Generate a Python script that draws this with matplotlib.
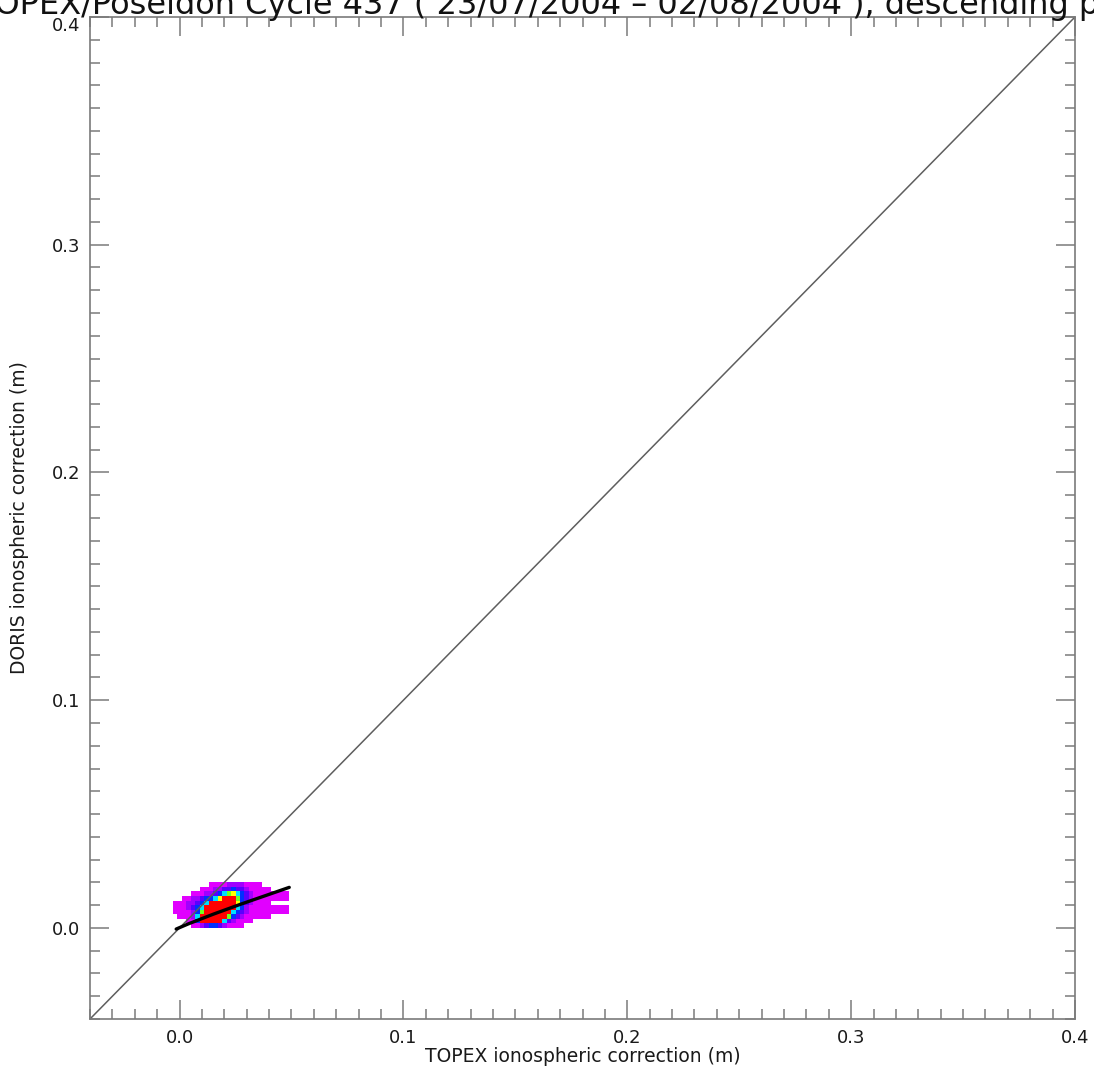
import numpy as np
import matplotlib
matplotlib.use("Agg")
import matplotlib.pyplot as plt
from matplotlib.colors import ListedColormap, BoundaryNorm
from matplotlib.ticker import MultipleLocator

# 2-D histogram of TOPEX vs DORIS ionospheric corrections (0.002 m bins)
x_edges_start = -0.003
bin_width = 0.002
y_edges_start = 0.0

# counts per bin, bottom row first (y = 0.000-0.002 upward), 27 columns from x = -0.003
counts = [
    [0,0,0,0,1,1,2,3,4,4,3,2,1,1,1,1,0,0,0,0,0,0,0,0,0,0,0],
    [0,0,0,1,1,4,9,9,9,9,9,5,3,2,1,1,1,1,0,0,0,0,0,0,0,0,0],
    [0,1,1,1,2,5,9,9,9,9,9,9,6,4,3,2,1,1,1,1,1,1,0,0,0,0,0],
    [1,1,1,1,2,4,6,9,9,9,9,9,9,5,4,3,2,1,1,1,1,1,1,1,1,1,0],
    [1,1,1,2,3,4,5,9,9,9,9,9,9,9,5,4,2,1,1,1,1,1,1,1,1,1,0],
    [1,1,1,2,2,3,4,5,9,9,9,9,9,9,7,4,3,2,1,1,1,1,0,0,0,0,0],
    [0,0,1,1,2,2,3,4,4,5,7,9,9,9,6,4,3,2,1,1,1,1,1,1,1,1,0],
    [0,0,0,0,1,1,1,2,2,3,4,5,6,7,5,4,3,2,1,1,1,1,1,1,1,1,0],
    [0,0,0,0,0,0,1,1,1,2,2,3,3,4,3,3,2,1,1,1,1,1,0,0,0,0,0],
    [0,0,0,0,0,0,0,0,1,1,1,1,2,2,2,2,1,1,1,1,0,0,0,0,0,0,0],
]

# regression curve through the cloud
fit_x = [-0.0015, 0.004, 0.015, 0.027, 0.049]
fit_y = [-0.0005, 0.0018, 0.0060, 0.0103, 0.0178]

axis_min, axis_max = -0.04, 0.4
major_ticks = [0.0, 0.1, 0.2, 0.3, 0.4]
tick_labels = ["0.0", "0.1", "0.2", "0.3", "0.4"]

title = "TOPEX/Poseidon Cycle 437 ( 23/07/2004 \u2013 02/08/2004 ), descending passes"
xlabel = "TOPEX ionospheric correction (m)"
ylabel = "DORIS ionospheric correction (m)"

level_colors = ["#e100ff", "#a000ff", "#5a00ff", "#0030ff", "#00e0ff",
                "#70ff20", "#ffff00", "#ff8000", "#ff0000"]

plt.rcParams["font.family"] = ["DejaVu Sans"]

fig = plt.figure(figsize=(10.94, 10.75), dpi=100)
ax = fig.add_axes([90/1094, 1 - 1019/1075, (1075-90)/1094, (1019-17)/1075])

cnt = np.array(counts, dtype=float)
ny, nx = cnt.shape
xe = x_edges_start + bin_width * np.arange(nx + 1)
ye = y_edges_start + bin_width * np.arange(ny + 1)
masked = np.ma.masked_equal(cnt, 0)
cmap = ListedColormap(level_colors)
norm = BoundaryNorm(np.arange(0.5, 10.5, 1.0), cmap.N)
ax.pcolormesh(xe, ye, masked, cmap=cmap, norm=norm, shading="flat", zorder=1)

ax.plot([axis_min, axis_max], [axis_min, axis_max], color="#5e5e5e", lw=1.1, zorder=2)
ax.plot(fit_x, fit_y, color="black", lw=2.4, zorder=3, solid_capstyle="round")

ax.set_xlim(axis_min, axis_max)
ax.set_ylim(axis_min, axis_max)
ax.set_xticks(major_ticks)
ax.set_xticklabels(tick_labels)
ax.set_yticks(major_ticks)
ax.set_yticklabels(tick_labels)
ax.xaxis.set_minor_locator(MultipleLocator(0.01))
ax.yaxis.set_minor_locator(MultipleLocator(0.01))

frame_col = "#7a7a7a"
for s in ax.spines.values():
    s.set_color(frame_col)
    s.set_linewidth(1.2)
ax.tick_params(which="both", direction="in", top=True, right=True,
               color=frame_col, width=1.1, labelsize=13, labelcolor="#1a1a1a")
ax.tick_params(which="major", length=14, pad=7)
ax.tick_params(which="minor", length=7.2)

# keep the topmost y label inside the frame height
ax.get_yticklabels()[-1].set_verticalalignment("top")

ax.set_xlabel(xlabel, fontsize=13.5, color="#1a1a1a")
ax.set_ylabel(ylabel, fontsize=13.5, color="#1a1a1a")
ax.xaxis.set_label_coords(0.5, -0.028)
ax.yaxis.set_label_coords(-0.062, 0.5)

fig.text(582/1094, 1 - 14/1075, title, ha="center", va="baseline",
         fontsize=23, color="#111111")

fig.savefig("out.png", dpi=100)
